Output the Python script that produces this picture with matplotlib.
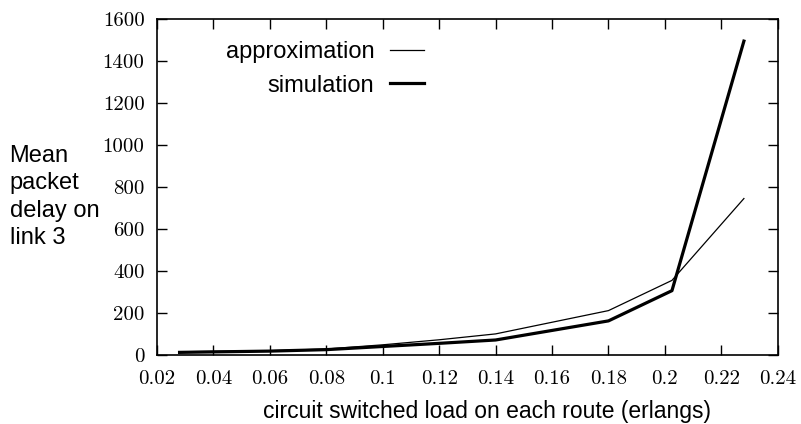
import matplotlib.pyplot as plt

# load (erlangs) and mean packet delay on link 3
load = [0.028, 0.06, 0.08, 0.1, 0.12, 0.14, 0.18, 0.2025, 0.228]
approximation = [15, 20, 28, 48, 72, 100, 211, 355, 745]
simulation = [12, 18, 25, 40, 55, 71, 162, 306, 1495]

xticks = [0.02, 0.04, 0.06, 0.08, 0.1, 0.12, 0.14, 0.16, 0.18, 0.2, 0.22, 0.24]
xticklabels = ['0.02', '0.04', '0.06', '0.08', '0.1', '0.12', '0.14', '0.16', '0.18', '0.2', '0.22', '0.24']
yticks = [0, 200, 400, 600, 800, 1000, 1200, 1400, 1600]

fig = plt.figure(figsize=(8.01, 4.24), dpi=100)
ax = fig.add_axes([0.196, 0.163, 0.775, 0.792])

ax.plot(load, approximation, color='black', linewidth=0.9, label='approximation')
ax.plot(load, simulation, color='black', linewidth=2.3, label='simulation')

ax.set_xlim(0.02, 0.24)
ax.set_ylim(0, 1600)
ax.set_xticks(xticks)
ax.set_xticklabels(xticklabels)
ax.set_yticks(yticks)
ax.tick_params(direction='in', length=7, width=1, top=True, right=True,
               labelsize=15)
ax.tick_params(axis='x', pad=11)
ax.tick_params(axis='y', pad=9)
for lab in ax.get_xticklabels() + ax.get_yticklabels():
    lab.set_family('cmr10')
for s in ax.spines.values():
    s.set_linewidth(1.2)

ax.set_xlabel('circuit switched load on each route (erlangs)', fontsize=16.5,
              family='Liberation Sans')
ax.xaxis.set_label_coords(0.532, -0.135)
fig.text(0.012, 0.535, 'Mean\npacket\ndelay on\nlink 3', fontsize=17,
         family='Liberation Sans', ha='left', va='center', linespacing=1.32)

leg = ax.legend(loc='upper right', bbox_to_anchor=(0.43, 0.935), frameon=False,
                markerfirst=False, handlelength=1.45, borderaxespad=0,
                borderpad=0, prop={'family': 'Liberation Sans', 'size': 17},
                labelspacing=0.5, handletextpad=0.65)
for t in leg.get_texts():
    t.set_ha('right')

fig.savefig('out.png', dpi=100)
